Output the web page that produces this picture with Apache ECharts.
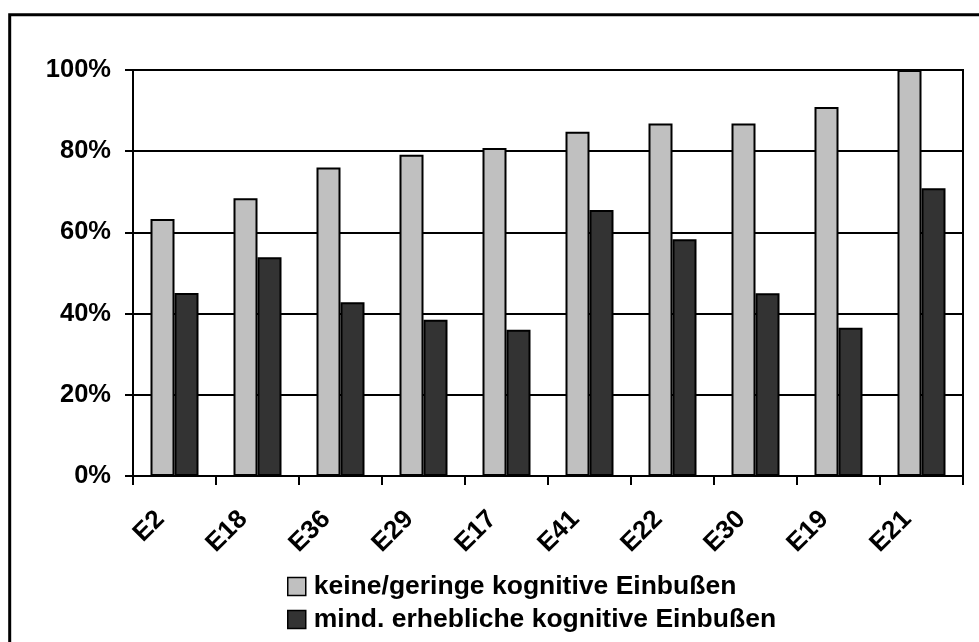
<!DOCTYPE html>
<html>
<head>
<meta charset="utf-8">
<script src="https://cdn.jsdelivr.net/npm/echarts@6/dist/echarts.min.js"></script>
<style>
html,body{margin:0;padding:0;background:#fff;}
#chart{width:979px;height:642px;}
</style>
</head>
<body>
<div id="chart"></div>
<script>
const categories = ['E2','E18','E36','E29','E17','E41','E22','E30','E19','E21'];
const seriesNames = ['keine/geringe kognitive Einbußen','mind. erhebliche kognitive Einbußen'];
const keineGeringe = [63.3, 68.4, 76.0, 79.1, 80.8, 84.8, 86.8, 86.8, 90.9, 100];
const mindErheblich = [45.1, 53.9, 42.8, 38.5, 36.0, 65.5, 58.3, 45.0, 36.5, 70.9];
const yTicks = [0, 20, 40, 60, 80, 100];

const chart = echarts.init(document.getElementById('chart'), null, {renderer:'canvas'});
const font = 'Arial, "Liberation Sans", sans-serif';
chart.setOption({
  animation:false,
  backgroundColor:'#fff',
  graphic:[{type:'rect', shape:{x:9.7,y:14.7,width:1100,height:800}, style:{fill:null, stroke:'#000', lineWidth:3}, z:-1}],
  grid:{left:133, right:16, top:70, bottom:166, show:true, borderColor:'#000', borderWidth:2, backgroundColor:'transparent'},
  legend:{
    orient:'vertical', left:287, top:573, height:64, padding:0, itemWidth:18, itemHeight:18, itemGap:6,
    icon:'rect',
    textStyle:{fontFamily:font, fontWeight:'bold', fontSize:26.5, lineHeight:26, color:'#000', padding:[0,0,0,3]},
    itemStyle:{borderColor:'#000', borderWidth:1.5},
    data: seriesNames
  },
  xAxis:{
    type:'category', data:categories,
    axisLine:{lineStyle:{color:'#000', width:2}},
    axisTick:{show:true, length:9, lineStyle:{color:'#000', width:2}},
    axisLabel:{rotate:45, margin:25, padding:[0,20,0,0], fontFamily:font, fontWeight:'bold', fontSize:26, color:'#000'}
  },
  yAxis:{
    type:'value', min:yTicks[0], max:yTicks[yTicks.length-1], interval:20,
    axisLine:{show:true, lineStyle:{color:'#000', width:2}},
    axisTick:{show:true, length:8, lineStyle:{color:'#000', width:2}},
    axisLabel:{margin:22, formatter:'{value}%', fontFamily:font, fontWeight:'bold', fontSize:25.5, color:'#000'},
    splitLine:{show:true, lineStyle:{color:'#000', width:2}}
  },
  series:[
    {name:seriesNames[0], type:'bar', data:keineGeringe, barWidth:24, barGap:'0%',
     itemStyle:{color:'#c0c0c0', borderColor:'#000', borderWidth:2}},
    {name:seriesNames[1], type:'bar', data:mindErheblich, barWidth:24, barGap:'0%',
     itemStyle:{color:'#333333', borderColor:'#000', borderWidth:2}}
  ]
});
</script>
</body>
</html>
